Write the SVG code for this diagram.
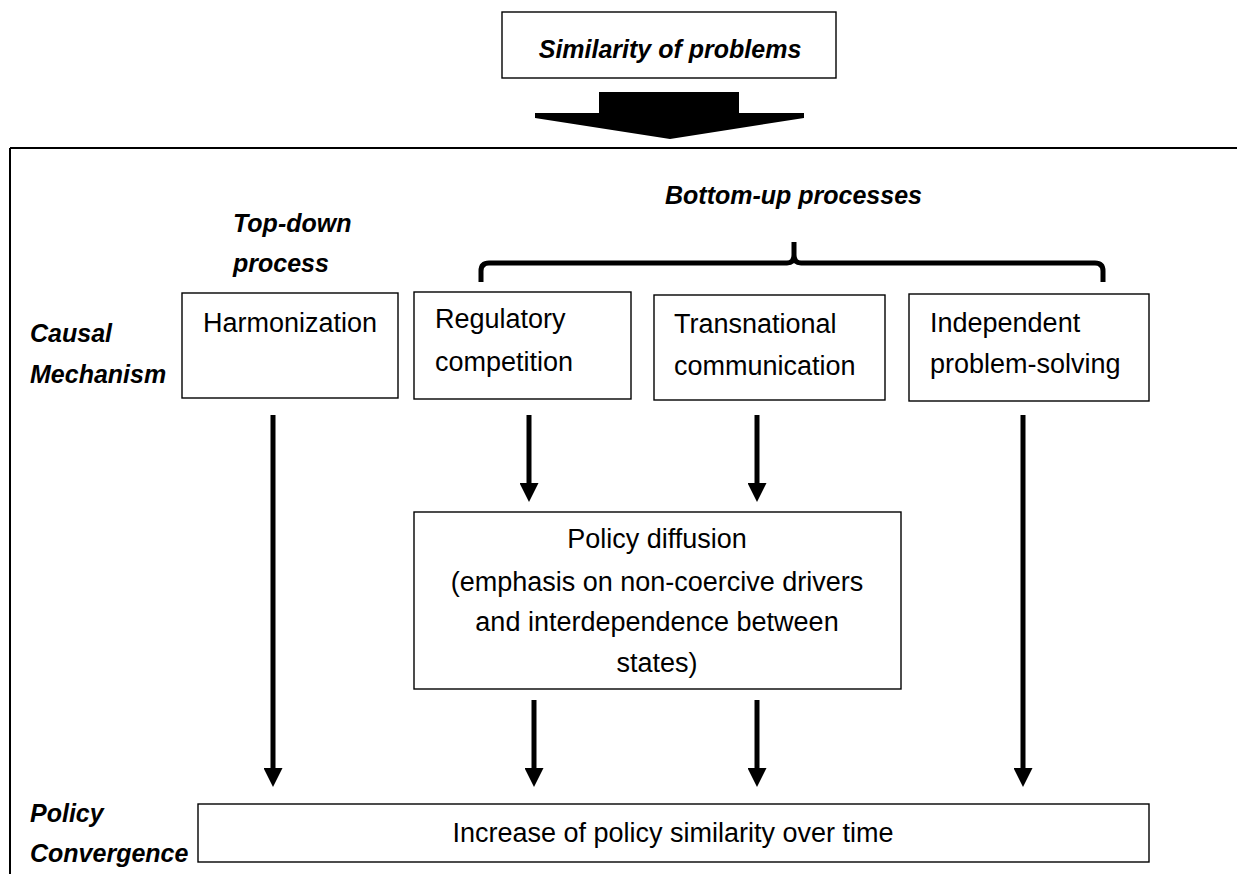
<svg xmlns="http://www.w3.org/2000/svg" width="1237" height="874" viewBox="0 0 1237 874">
<style>
.box{fill:#fff;stroke:#000;stroke-width:1.4}
.t{font-family:"Liberation Sans",Arial,sans-serif;font-size:27px;fill:#000}
.b{font-family:"Liberation Sans",Arial,sans-serif;font-size:25px;font-weight:bold;font-style:italic;fill:#000}
.arr{stroke:#000;stroke-width:5;fill:none;marker-end:url(#ah)}
.c{text-anchor:middle}
</style>
<defs>
<marker id="ah" viewBox="0 0 10 10" refX="0" refY="5" markerWidth="3.8" markerHeight="3.8" orient="auto" markerUnits="strokeWidth">
<path d="M0,0 L10,5 L0,10 z" fill="#000"/>
</marker>
</defs>
<rect width="1237" height="874" fill="#fff"/>
<g id="frame">
<path d="M10,148 H1237 M10,148 V874" stroke="#000" stroke-width="2" fill="none"/>
</g>
<g id="similarity">
<rect class="box" x="502" y="12" width="334" height="66"/>
<text class="b c" x="670" y="58">Similarity of problems</text>
</g>
<g id="bigarrow">
<polygon points="599,92 739,92 739,113 804,113 804,118 670,139 535,118 535,113 599,113" fill="#000"/>
</g>
<g id="labels">
<text class="b" x="30" y="342">Causal</text>
<text class="b" x="30" y="383">Mechanism</text>
<text class="b" x="30" y="822">Policy</text>
<text class="b" x="30" y="862">Convergence</text>
<text class="b" x="233" y="232">Top-down</text>
<text class="b" x="233" y="272">process</text>
<text class="b" x="665" y="204">Bottom-up processes</text>
</g>
<g id="bracket">
<path d="M481,282 V271 Q481,263 489,263 H787 Q794,263 794,255 V242 M794,255 Q794,263 801,263 H1095 Q1103,263 1103,271 V282" stroke="#000" stroke-width="5" fill="none" stroke-linejoin="round"/>
</g>
<g id="harmonization">
<rect class="box" x="182" y="293" width="216" height="105"/>
<text class="t" x="203" y="332">Harmonization</text>
</g>
<g id="regulatory">
<rect class="box" x="414" y="292" width="217" height="107"/>
<text class="t" x="435" y="328">Regulatory</text>
<text class="t" x="435" y="371">competition</text>
</g>
<g id="transnational">
<rect class="box" x="654" y="295" width="231" height="105"/>
<text class="t" x="674" y="333">Transnational</text>
<text class="t" x="674" y="375">communication</text>
</g>
<g id="independent">
<rect class="box" x="909" y="294" width="240" height="107"/>
<text class="t" x="930" y="332">Independent</text>
<text class="t" x="930" y="373">problem-solving</text>
</g>
<g id="diffusion">
<rect class="box" x="414" y="512" width="487" height="177"/>
<text class="t c" x="657" y="548">Policy diffusion</text>
<text class="t c" x="657" y="591">(emphasis on non-coercive drivers</text>
<text class="t c" x="657" y="631">and interdependence between</text>
<text class="t c" x="657" y="672">states)</text>
</g>
<g id="convergence">
<rect class="box" x="198" y="804" width="951" height="58"/>
<text class="t c" x="673" y="842">Increase of policy similarity over time</text>
</g>
<g id="connectors">
<line class="arr" x1="273" y1="415" x2="273" y2="768"/>
<line class="arr" x1="529" y1="415" x2="529" y2="483"/>
<line class="arr" x1="757" y1="415" x2="757" y2="483"/>
<line class="arr" x1="534" y1="700" x2="534" y2="768"/>
<line class="arr" x1="757" y1="700" x2="757" y2="768"/>
<line class="arr" x1="1023" y1="415" x2="1023" y2="768"/>
</g>
</svg>
